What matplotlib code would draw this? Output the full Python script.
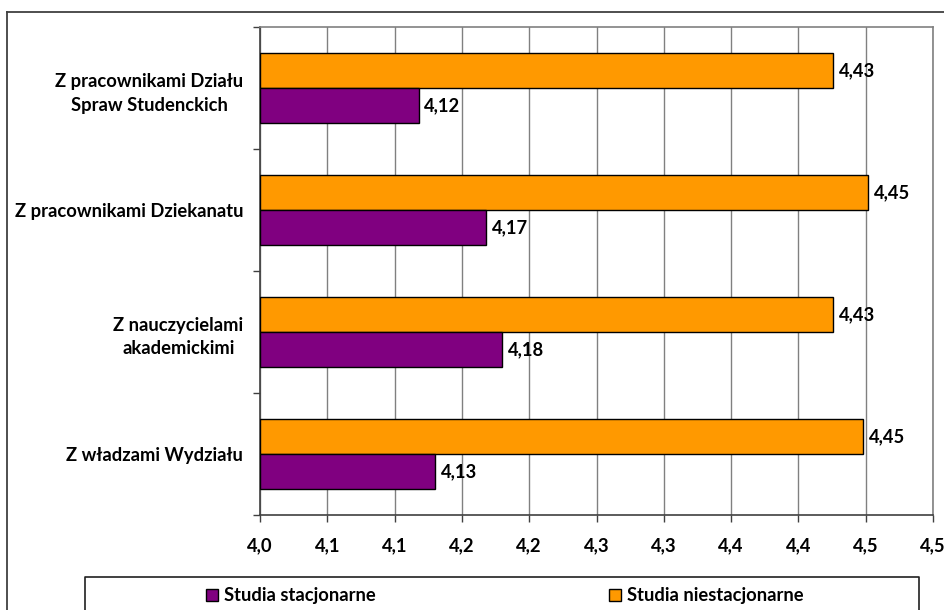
import matplotlib.pyplot as plt
import numpy as np
from matplotlib.lines import Line2D
from matplotlib.patches import Patch

plt.rcParams['font.family'] = ['Lato', 'DejaVu Sans']
plt.rcParams['font.weight'] = 'bold'

# categories listed top to bottom
categories = ['Z pracownikami Działu\nSpraw Studenckich',
              'Z pracownikami Dziekanatu',
              'Z nauczycielami\nakademickimi',
              'Z władzami Wydziału']
stacjonarne = [4.118, 4.168, 4.180, 4.130]
niestacjonarne = [4.426, 4.452, 4.426, 4.448]
stac_labels = ['4,12', '4,17', '4,18', '4,13']
niestac_labels = ['4,43', '4,45', '4,43', '4,45']
xticks = [4.00, 4.05, 4.10, 4.15, 4.20, 4.25, 4.30, 4.35, 4.40, 4.45, 4.50]
xtick_labels = ['4,0', '4,1', '4,1', '4,2', '4,2', '4,3', '4,3', '4,4', '4,4', '4,5', '4,5']

purple = '#800080'
orange = '#FF9900'
fs = 13.2

fig = plt.figure(figsize=(9.45, 6.1), dpi=100)
ax = fig.add_axes([260/945, 1-515/610, 673/945, 488/610])

y = np.arange(len(categories))
h = 0.285
ax.barh(y - h/2, [v - 4 for v in niestacjonarne], left=4, height=h, color=orange,
        edgecolor='black', linewidth=1, zorder=3)
ax.barh(y + h/2, [v - 4 for v in stacjonarne], left=4, height=h, color=purple,
        edgecolor='black', linewidth=1, zorder=3)

for i in range(len(categories)):
    ax.annotate(niestac_labels[i], (niestacjonarne[i], y[i] - h/2), xytext=(4, 0),
                textcoords='offset points', va='center', ha='left', fontsize=fs, fontweight='bold')
    ax.annotate(stac_labels[i], (stacjonarne[i], y[i] + h/2), xytext=(4, 0),
                textcoords='offset points', va='center', ha='left', fontsize=fs, fontweight='bold')

ax.set_xlim(4.0, 4.5)
ax.set_ylim(len(categories) - 0.5, -0.5)
ax.set_xticks(xticks)
ax.set_xticklabels(xtick_labels, fontsize=fs, fontweight='bold')
ax.tick_params(axis='x', direction='out', length=5, width=1, color='#404040', pad=11)

# category boundaries as major ticks, names on minor ticks
ax.set_yticks(np.arange(len(categories) + 1) - 0.5)
ax.set_yticklabels([])
ax.set_yticks(y, minor=True)
ax.set_yticklabels(categories, minor=True, fontsize=fs, fontweight='bold',
                   multialignment='center', linespacing=1.5)
ax.tick_params(axis='y', which='major', direction='out', length=5, width=1, color='#404040')
ax.tick_params(axis='y', which='minor', length=0, pad=12)

ax.grid(axis='x', color='#808080', linewidth=1, zorder=0)
ax.set_axisbelow(True)
for s in ['left', 'bottom']:
    ax.spines[s].set_color('#404040')
    ax.spines[s].set_linewidth(1.2)
for s in ['top', 'right']:
    ax.spines[s].set_color('#808080')
    ax.spines[s].set_linewidth(1.2)

# outer chart frame (runs off the right and bottom of the image)
fig.add_artist(Line2D([7/945, 1.0], [1-12/610, 1-12/610], color='#404040', linewidth=1.3,
                      transform=fig.transFigure))
fig.add_artist(Line2D([7/945, 7/945], [1-12/610, 0.0], color='#404040', linewidth=1.3,
                      transform=fig.transFigure))

# legend box
fig.add_artist(Line2D([85/945, 85/945, 919/945, 919/945], [0.0, 1-577/610, 1-577/610, 0.0],
                      color='#202020', linewidth=1.2, transform=fig.transFigure))
handles = [Patch(facecolor=purple, edgecolor='black', linewidth=1),
           Patch(facecolor=orange, edgecolor='black', linewidth=1)]
fig.legend(handles, ['Studia stacjonarne', 'Studia niestacjonarne'], loc='center',
           bbox_to_anchor=(505/945, 1-596/610), ncol=2, frameon=False,
           prop={'size': fs, 'weight': 'bold'}, handlelength=0.65, handleheight=0.65,
           handletextpad=0.35, columnspacing=12.7)

fig.savefig('out.png', dpi=100)
